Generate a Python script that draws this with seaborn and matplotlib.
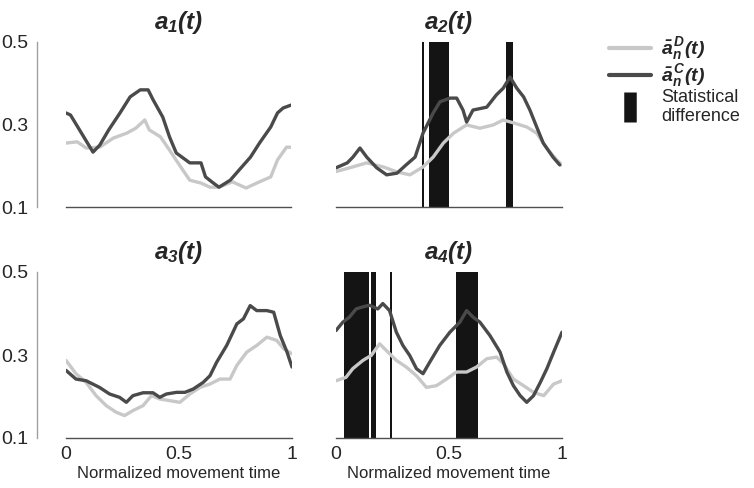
import matplotlib
matplotlib.use("Agg")
import matplotlib.pyplot as plt
from matplotlib.lines import Line2D
import seaborn as sns

sns.set_style("white")
plt.rcParams["font.family"] = ["Liberation Sans", "DejaVu Sans"]
plt.rcParams["mathtext.fontset"] = "custom"
plt.rcParams["mathtext.bf"] = "Liberation Sans:italic:bold"
plt.rcParams["mathtext.rm"] = "Liberation Sans"
plt.rcParams["mathtext.it"] = "Liberation Sans:italic"

# ---- data ----
titles = [r"$\mathbf{a_1(t)}$", r"$\mathbf{a_2(t)}$", r"$\mathbf{a_3(t)}$", r"$\mathbf{a_4(t)}$"]

# a1
a1_t_C = [0, 0.02, 0.12, 0.15, 0.19, 0.24, 0.285, 0.33, 0.365, 0.387, 0.43, 0.46, 0.49, 0.55, 0.6, 0.62,
          0.655, 0.68, 0.73, 0.77, 0.82, 0.86, 0.91, 0.94, 0.965, 1.0]
a1_C = [0.328, 0.323, 0.233, 0.25, 0.287, 0.328, 0.367, 0.384, 0.384, 0.36, 0.318, 0.27, 0.231, 0.207,
        0.207, 0.173, 0.158, 0.148, 0.165, 0.19, 0.221, 0.255, 0.294, 0.328, 0.34, 0.347]
a1_t_D = [0, 0.05, 0.09, 0.15, 0.21, 0.27, 0.31, 0.35, 0.37, 0.42, 0.46, 0.51, 0.55, 0.6, 0.64, 0.68,
          0.74, 0.8, 0.86, 0.91, 0.94, 0.98, 1.0]
a1_D = [0.255, 0.258, 0.243, 0.245, 0.267, 0.279, 0.291, 0.311, 0.287, 0.27, 0.238, 0.197, 0.165, 0.158,
        0.148, 0.148, 0.161, 0.146, 0.161, 0.173, 0.214, 0.245, 0.245]

# a2
a2_t_C = [0, 0.05, 0.075, 0.106, 0.136, 0.18, 0.224, 0.27, 0.31, 0.35, 0.385, 0.43, 0.46, 0.504, 0.534,
          0.562, 0.578, 0.606, 0.667, 0.71, 0.74, 0.77, 0.8, 0.83, 0.858, 0.888, 0.917, 0.96, 0.99]
a2_C = [0.195, 0.207, 0.221, 0.243, 0.221, 0.195, 0.178, 0.182, 0.202, 0.221, 0.279, 0.328, 0.355, 0.364,
        0.364, 0.335, 0.306, 0.335, 0.342, 0.372, 0.388, 0.415, 0.388, 0.367, 0.335, 0.294, 0.255, 0.221,
        0.202]
a2_t_D = [0, 0.06, 0.136, 0.21, 0.27, 0.327, 0.385, 0.43, 0.475, 0.52, 0.578, 0.637, 0.696, 0.74, 0.785,
          0.844, 0.888, 0.932, 0.977, 1.0]
a2_D = [0.186, 0.195, 0.207, 0.197, 0.185, 0.178, 0.197, 0.221, 0.255, 0.279, 0.299, 0.291, 0.299, 0.311,
        0.304, 0.294, 0.279, 0.243, 0.214, 0.202]

# a3
a3_t_C = [0, 0.044, 0.089, 0.148, 0.193, 0.237, 0.267, 0.296, 0.341, 0.385, 0.415, 0.444, 0.489, 0.526,
          0.563, 0.607, 0.637, 0.667, 0.711, 0.756, 0.785, 0.815, 0.844, 0.889, 0.919, 0.948, 0.978, 1.0]
a3_C = [0.263, 0.242, 0.238, 0.222, 0.206, 0.198, 0.186, 0.202, 0.209, 0.209, 0.198, 0.206, 0.21, 0.21,
        0.218, 0.234, 0.25, 0.283, 0.323, 0.375, 0.387, 0.419, 0.407, 0.407, 0.403, 0.347, 0.307, 0.271]
a3_t_D = [0, 0.044, 0.089, 0.133, 0.178, 0.222, 0.259, 0.296, 0.341, 0.378, 0.415, 0.459, 0.504, 0.548,
          0.593, 0.637, 0.681, 0.726, 0.756, 0.8, 0.844, 0.889, 0.933, 0.963, 1.0]
a3_D = [0.287, 0.255, 0.234, 0.202, 0.178, 0.162, 0.154, 0.166, 0.178, 0.202, 0.194, 0.19, 0.186, 0.206,
        0.222, 0.23, 0.242, 0.242, 0.275, 0.307, 0.323, 0.343, 0.335, 0.315, 0.303]

# a4
a4_t_C = [0, 0.03, 0.059, 0.089, 0.119, 0.148, 0.185, 0.207, 0.237, 0.267, 0.296, 0.326, 0.356, 0.385,
          0.415, 0.459, 0.504, 0.548, 0.578, 0.607, 0.637, 0.681, 0.726, 0.756, 0.785, 0.815, 0.844, 0.874,
          0.904, 0.933, 0.963, 1.0]
a4_C = [0.359, 0.379, 0.391, 0.411, 0.416, 0.42, 0.411, 0.424, 0.407, 0.355, 0.323, 0.299, 0.267, 0.255,
        0.283, 0.323, 0.355, 0.379, 0.407, 0.391, 0.379, 0.347, 0.307, 0.259, 0.226, 0.202, 0.186, 0.202,
        0.234, 0.267, 0.307, 0.355]
a4_t_D = [0, 0.044, 0.074, 0.119, 0.156, 0.193, 0.23, 0.267, 0.311, 0.356, 0.4, 0.444, 0.489, 0.533, 0.578,
          0.622, 0.667, 0.711, 0.741, 0.785, 0.83, 0.874, 0.919, 0.963, 1.0]
a4_D = [0.238, 0.246, 0.267, 0.287, 0.299, 0.327, 0.307, 0.287, 0.271, 0.25, 0.222, 0.226, 0.242, 0.259,
        0.259, 0.271, 0.291, 0.295, 0.279, 0.242, 0.226, 0.21, 0.202, 0.23, 0.238]

# statistical difference intervals (start, end) in normalized time
sig_a2 = [(0.380, 0.389), (0.411, 0.498), (0.751, 0.781)]
sig_a4 = [(0.036, 0.146), (0.157, 0.176), (0.238, 0.247), (0.530, 0.630)]

light = "#c8c8c8"
dark = "#4a4a4a"
barc = "#141414"

panels = [
    (a1_t_D, a1_D, a1_t_C, a1_C, []),
    (a2_t_D, a2_D, a2_t_C, a2_C, sig_a2),
    (a3_t_D, a3_D, a3_t_C, a3_C, []),
    (a4_t_D, a4_D, a4_t_C, a4_C, sig_a4),
]

W, H = 754, 488
fig = plt.figure(figsize=(W / 100, H / 100), dpi=100)
boxes = [(66, 42, 291, 207), (336, 42, 562, 207), (66, 272, 292, 438), (336, 272, 562, 438)]

for i, (box, (tD, vD, tC, vC, sig)) in enumerate(zip(boxes, panels)):
    x0, y0, x1, y1 = box
    ax = fig.add_axes([x0 / W, 1 - y1 / H, (x1 - x0) / W, (y1 - y0) / H])
    for s, e in sig:
        ax.bar(s, 0.4, width=e - s, bottom=0.1, align="edge", color=barc, linewidth=0, zorder=1)
    sns.lineplot(x=tD, y=vD, ax=ax, color=light, linewidth=2.4, zorder=3)
    sns.lineplot(x=tC, y=vC, ax=ax, color=dark, linewidth=2.4, zorder=4)
    ax.set_xlim(0, 1)
    ax.set_ylim(0.1, 0.5)
    ax.set_xlabel("")
    ax.set_ylabel("")
    ax.set_title(titles[i], fontsize=17.5, pad=9)
    left = i in (0, 2)
    sns.despine(ax=ax, left=not left, offset={"left": 21} if left else None)
    ax.spines["bottom"].set_color("#505050")
    ax.spines["bottom"].set_linewidth(1.0)
    ax.spines["left"].set_color("#a0a0a0")
    ax.spines["left"].set_linewidth(1.0)
    ax.tick_params(length=0, labelsize=14, pad=6)
    if left:
        ax.set_yticks([0.1, 0.3, 0.5])
        ax.set_yticklabels(["0.1", "0.3", "0.5"])
    else:
        ax.set_yticks([])
    if i >= 2:
        ax.set_xticks([0, 0.5, 1])
        ax.set_xticklabels(["0", "0.5", "1"])
        ax.set_xlabel("Normalized movement time", fontsize=12, labelpad=2)
    else:
        ax.set_xticks([])

handles = [
    Line2D([], [], color=light, linewidth=3),
    Line2D([], [], color=dark, linewidth=3),
    Line2D([], [], color=barc, linestyle="none", marker="|", markersize=22, markeredgewidth=9),
]
labels = [r"$\mathbf{\bar{a}_n^{\,D}(t)}$", r"$\mathbf{\bar{a}_n^{\,C}(t)}$", "Statistical\ndifference"]
leg = fig.legend(handles, labels, loc="upper left", bbox_to_anchor=(609 / W, 1 - 35 / H), frameon=False,
                 fontsize=13, handlelength=2.3, handletextpad=0.6, labelspacing=0.0, borderpad=0,
                 borderaxespad=0)
for txt in leg.get_texts()[:2]:
    txt.set_fontsize(14)

fig.savefig("out.png", dpi=100)
